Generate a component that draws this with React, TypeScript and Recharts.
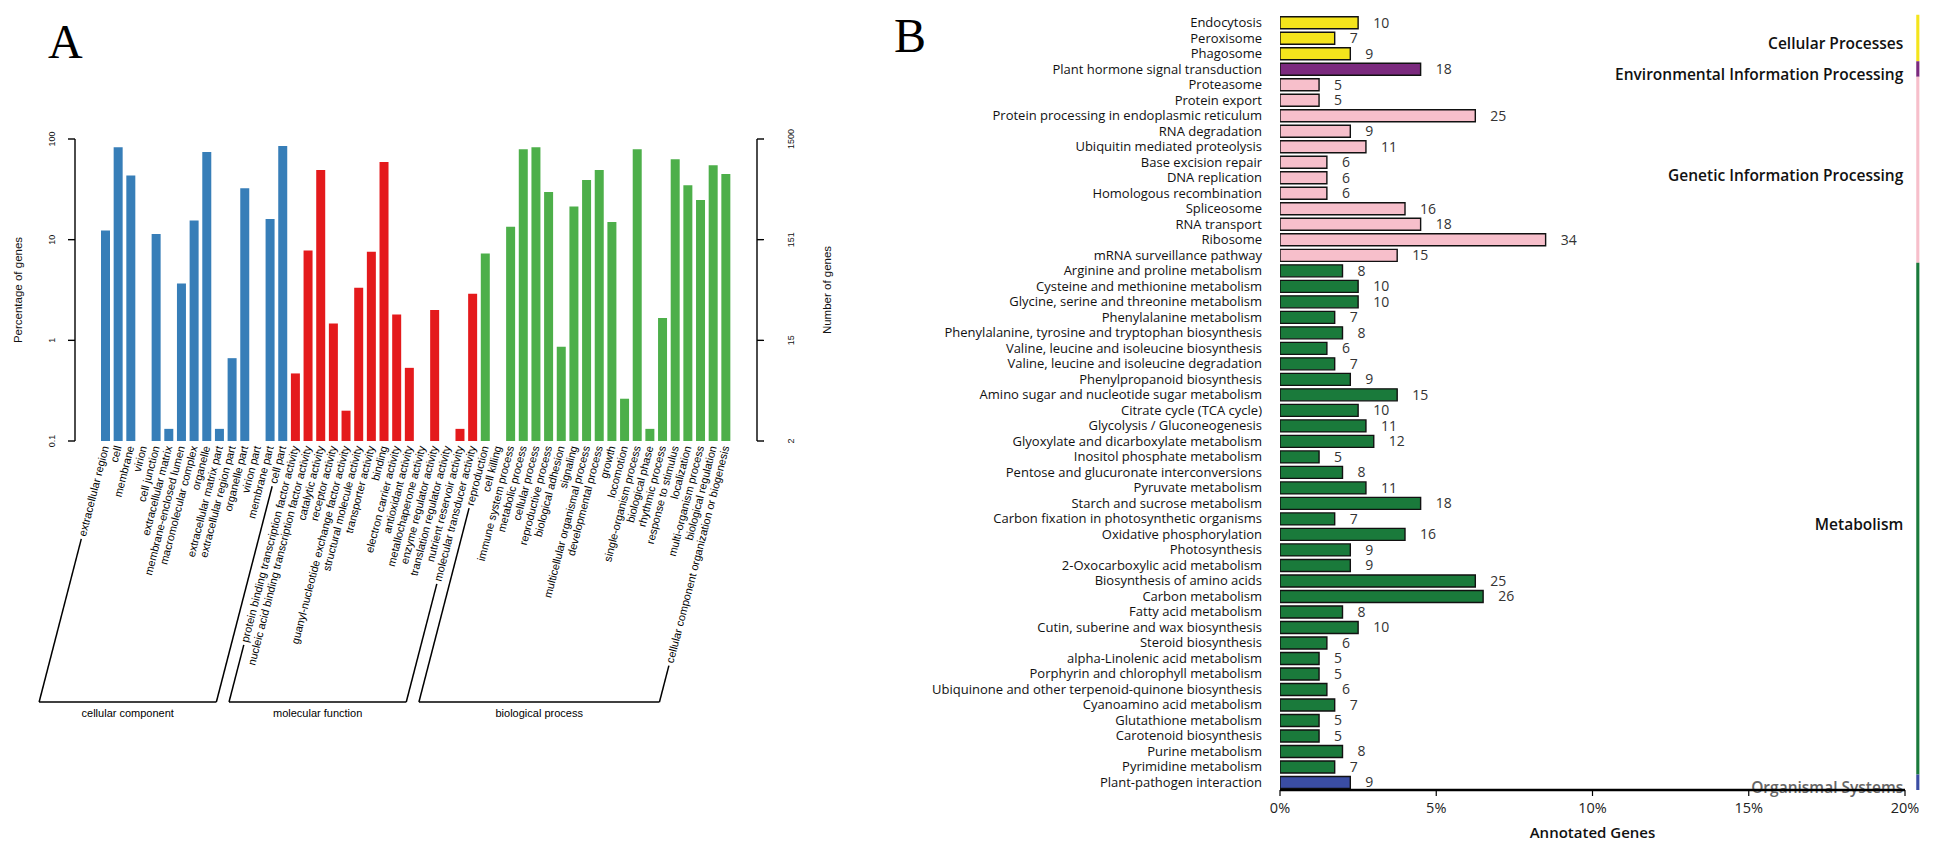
import { BarChart, Bar, XAxis, YAxis, Cell, LabelList, ReferenceArea } from 'recharts';

// ---------- Panel A: GO classification ----------
const ccTerms = [
  'extracellular region', 'cell', 'membrane', 'virion', 'cell junction', 'extracellular matrix',
  'membrane-enclosed lumen', 'macromolecular complex', 'organelle', 'extracellular matrix part',
  'extracellular region part', 'organelle part', 'virion part', 'membrane part', 'cell part',
];
const ccPct = [12.3, 82.7, 43.3, null, 11.4, 0.132, 3.66, 15.5, 74.3, 0.132, 0.665, 32.4, null, 16.0, 85.2];

const mfTerms = [
  'protein binding transcription factor activity', 'nucleic acid binding transcription factor activity',
  'catalytic activity', 'receptor activity', 'guanyl-nucleotide exchange factor activity',
  'structural molecule activity', 'transporter activity', 'binding', 'electron carrier activity',
  'antioxidant activity', 'metallochaperone activity', 'enzyme regulator activity',
  'translation regulator activity', 'nutrient reservoir activity', 'molecular transducer activity',
];
const mfPct = [0.469, 7.8, 49.3, 1.47, 0.2, 3.32, 7.57, 59.1, 1.81, 0.533, null, 2.0, null, 0.132, 2.9];

const bpTerms = [
  'reproduction', 'cell killing', 'immune system process', 'metabolic process', 'cellular process',
  'reproductive process', 'biological adhesion', 'signaling', 'multicellular organismal process',
  'developmental process', 'growth', 'locomotion', 'single-organism process', 'biological phase',
  'rhythmic process', 'response to stimulus', 'localization', 'multi-organism process',
  'biological regulation', 'cellular component organization or biogenesis',
];
const bpPct = [7.28, null, 13.4, 79, 82.7, 29.8, 0.863, 21.3, 39.2, 49.3, 15.0, 0.263, 79, 0.132, 1.67, 62.8, 34.7, 24.8, 54.8, 45];

const goGroupNames = ['cellular component', 'molecular function', 'biological process'];
const goColors = ['#377EB8', '#E41A1C', '#4DAF4A'];
const pctTicks = [0.1, 1, 10, 100];
const pctTickLabels = ['0.1', '1', '10', '100'];
const geneTickLabels = ['2', '15', '151', '1500'];

// ---------- Panel B: KEGG classification ----------
const keggTerms = [
  'Endocytosis', 'Peroxisome', 'Phagosome', 'Plant hormone signal transduction', 'Proteasome',
  'Protein export', 'Protein processing in endoplasmic reticulum', 'RNA degradation',
  'Ubiquitin mediated proteolysis', 'Base excision repair', 'DNA replication', 'Homologous recombination',
  'Spliceosome', 'RNA transport', 'Ribosome', 'mRNA surveillance pathway',
  'Arginine and proline metabolism', 'Cysteine and methionine metabolism',
  'Glycine, serine and threonine metabolism', 'Phenylalanine metabolism',
  'Phenylalanine, tyrosine and tryptophan biosynthesis', 'Valine, leucine and isoleucine biosynthesis',
  'Valine, leucine and isoleucine degradation', 'Phenylpropanoid biosynthesis',
  'Amino sugar and nucleotide sugar metabolism', 'Citrate cycle (TCA cycle)', 'Glycolysis / Gluconeogenesis',
  'Glyoxylate and dicarboxylate metabolism', 'Inositol phosphate metabolism',
  'Pentose and glucuronate interconversions', 'Pyruvate metabolism', 'Starch and sucrose metabolism',
  'Carbon fixation in photosynthetic organisms', 'Oxidative phosphorylation', 'Photosynthesis',
  '2-Oxocarboxylic acid metabolism', 'Biosynthesis of amino acids', 'Carbon metabolism',
  'Fatty acid metabolism', 'Cutin, suberine and wax biosynthesis', 'Steroid biosynthesis',
  'alpha-Linolenic acid metabolism', 'Porphyrin and chlorophyll metabolism',
  'Ubiquinone and other terpenoid-quinone biosynthesis', 'Cyanoamino acid metabolism',
  'Glutathione metabolism', 'Carotenoid biosynthesis', 'Purine metabolism', 'Pyrimidine metabolism',
  'Plant-pathogen interaction',
];
const keggGenes = [
  10, 7, 9, 18, 5, 5, 25, 9, 11, 6, 6, 6, 16, 18, 34, 15,
  8, 10, 10, 7, 8, 6, 7, 9, 15, 10, 11, 12, 5, 8, 11, 18, 7, 16, 9, 9, 25, 26, 8, 10, 6, 5, 5, 6, 7, 5, 5, 8, 7,
  9,
];
const KEGG_TOTAL = 400;
const keggClassNames = ['Cellular Processes', 'Environmental Information Processing', 'Genetic Information Processing', 'Metabolism', 'Organismal Systems'];
const keggClassSizes = [3, 1, 12, 33, 1];
const keggClassColors = ['#F4E41C', '#7B2A7E', '#F7BFCB', '#1A7A3B', '#3A4DA3'];
const keggTicks = [0, 5, 10, 15, 20];

// ---------- derived tables ----------
const goLists = [
  { terms: ccTerms, pct: ccPct },
  { terms: mfTerms, pct: mfPct },
  { terms: bpTerms, pct: bpPct },
];
const goData: { term: string; pct: number | null; group: number }[] = [];
const goGroups: { name: string; start: number; end: number }[] = [];
goLists.forEach((l, g) => {
  const start = goData.length;
  l.terms.forEach((t, i) => goData.push({ term: t, pct: l.pct[i], group: g }));
  goGroups.push({ name: goGroupNames[g], start, end: goData.length - 1 });
});

const keggClass: number[] = [];
const keggClassRanges: { start: number; end: number }[] = [];
keggClassSizes.forEach((n, c) => {
  const start = keggClass.length;
  for (let i = 0; i < n; i++) keggClass.push(c);
  keggClassRanges.push({ start, end: keggClass.length - 1 });
});
const keggData = keggTerms.map((t, i) => ({
  term: t,
  genes: keggGenes[i],
  pct: (keggGenes[i] / KEGG_TOTAL) * 100,
  cls: keggClass[i],
}));

const FONT_A = '"Liberation Sans", Arial, sans-serif';
const FONT_B = '"Open Sans", Lato, sans-serif';
const LABEL_SIZE = 11;
const ANGLE = 75.5;
const BRACKET_Y = 702;

let measureCtx: CanvasRenderingContext2D | null = null;
function textWidth(s: string) {
  if (!measureCtx) measureCtx = document.createElement('canvas').getContext('2d');
  if (!measureCtx) return s.length * 5.5;
  measureCtx.font = `${LABEL_SIZE}px "Liberation Sans"`;
  return measureCtx.measureText(s).width;
}

const tickXs: number[] = [];

function GoTick(props: any) {
  const { x, y, index } = props;
  const row = goData[index];
  if (!row) return null;
  tickXs[index] = x;
  const grp = goGroups[row.group];
  const isFirst = index === grp.start;
  const isLast = index === grp.end;
  const rad = (ANGLE * Math.PI) / 180;
  const drop = BRACKET_Y - y;
  const len = drop / Math.sin(rad);
  const shift = drop / Math.tan(rad);
  const w = textWidth(row.term);
  let bracket = null;
  if (isLast && tickXs[grp.start] != null) {
    const x0 = tickXs[grp.start] - shift;
    const x1 = x - shift;
    bracket = (
      <g>
        <line x1={x0} x2={x1} y1={BRACKET_Y} y2={BRACKET_Y} stroke="#000" strokeWidth={1.5} />
        <text x={(x0 + x1) / 2} y={BRACKET_Y + 11} textAnchor="middle" dominantBaseline="central"
          fontSize={11} fontFamily={FONT_A} fill="#000">{grp.name}</text>
      </g>
    );
  }
  return (
    <g>
      <g transform={`translate(${x},${y}) rotate(${-ANGLE})`}>
        <text x={0} y={0} dy="0.35em" textAnchor="end" fontSize={LABEL_SIZE} fontFamily={FONT_A} fill="#000">
          {row.term}
        </text>
        {(isFirst || isLast) && (
          <line x1={-(w + 3)} x2={-len} y1={0} y2={0} stroke="#000" strokeWidth={1.5} />
        )}
      </g>
      {bracket}
    </g>
  );
}

function RotTick(props: any) {
  const { x, y, payload, labels } = props;
  const i = pctTicks.indexOf(payload.value);
  return (
    <text x={x} y={y} transform={`rotate(-90 ${x} ${y})`} textAnchor="middle" dominantBaseline="central"
      fontSize={9} fontFamily={FONT_A} fill="#111">
      {labels[i]}
    </text>
  );
}

function axisTitle(text: string, dx: number) {
  return (p: any) => {
    const vb = p.viewBox;
    if (!vb) return null;
    const cx = vb.x + dx;
    const cy = vb.y + vb.height / 2;
    return (
      <text x={cx} y={cy} transform={`rotate(-90 ${cx} ${cy})`} textAnchor="middle" dominantBaseline="central"
        fontSize={11.5} fontFamily={FONT_A} fill="#111">
        {text}
      </text>
    );
  };
}

function GoChart() {
  return (
    <BarChart width={860} height={760} data={goData} margin={{ top: 139, right: 0, bottom: 19, left: 0 }}>
      <XAxis dataKey="term" type="category" interval={0} height={300} axisLine={false} tickLine={false}
        tickSize={0} tickMargin={5} padding={{ left: 24, right: 25 }} tick={(p: any) => <GoTick {...p} />} />
      <YAxis yAxisId="pct" type="number" scale="log" domain={[0.1, 100]} allowDataOverflow ticks={pctTicks}
        width={75} tickSize={7} tickMargin={16}
        axisLine={{ stroke: '#000', strokeWidth: 1.4 }} tickLine={{ stroke: '#000', strokeWidth: 1.4 }}
        tick={(p: any) => <RotTick {...p} labels={pctTickLabels} />}
        label={axisTitle('Percentage of genes', 18)} />
      <YAxis yAxisId="genes" orientation="right" type="number" scale="log" domain={[0.1, 100]} allowDataOverflow
        ticks={pctTicks} width={103} tickSize={7} tickMargin={27}
        axisLine={{ stroke: '#000', strokeWidth: 1.4 }} tickLine={{ stroke: '#000', strokeWidth: 1.4 }}
        tick={(p: any) => <RotTick {...p} labels={geneTickLabels} />}
        label={axisTitle('Number of genes', 70)} />
      <Bar yAxisId="pct" dataKey="pct" barSize={9} isAnimationActive={false}>
        {goData.map((d, i) => (
          <Cell key={i} fill={goColors[d.group]} />
        ))}
      </Bar>
    </BarChart>
  );
}

function KeggChart() {
  return (
    <BarChart layout="vertical" width={1043} height={843} data={keggData}
      margin={{ top: 14.75, right: 38, bottom: 0, left: 0 }}>
      <XAxis type="number" domain={[0, 20]} allowDataOverflow ticks={keggTicks}
        tickFormatter={(v: number) => `${v}%`} height={53}
        axisLine={{ stroke: '#000', strokeWidth: 2.5 }} tickLine={{ stroke: '#000', strokeWidth: 1.2 }}
        tickSize={6} tickMargin={7} tick={{ fill: '#222', fontSize: 14.5, fontFamily: FONT_B }}
        label={{ value: 'Annotated Genes', position: 'insideBottom', offset: 5, fill: '#111', fontSize: 15, fontWeight: 600, fontFamily: FONT_B }} />
      <YAxis type="category" dataKey="term" width={380} interval={0} axisLine={false} tickLine={false}
        tickSize={0} tickMargin={18} tick={{ fill: '#111', fontSize: 13, fontFamily: FONT_B }} />
      {keggClassRanges.map((r, c) => (
        <ReferenceArea key={c} x1={20.36} x2={20.46} y1={keggTerms[r.start]} y2={keggTerms[r.end]}
          ifOverflow="visible" fill={keggClassColors[c]} fillOpacity={1} stroke="none"
          label={(p: any) => {
            const vb = p.viewBox;
            if (!vb) return null;
            return (
              <text x={vb.x - 13} y={vb.y + vb.height / 2 + 5} textAnchor="end" dominantBaseline="central"
                fontSize={15.5} fontWeight={600} fontFamily={FONT_B}
                fill={c === keggClassNames.length - 1 ? '#666' : '#111'}>
                {keggClassNames[c]}
              </text>
            );
          }} />
      ))}
      <Bar dataKey="pct" barSize={12} stroke="#111" strokeWidth={1.4} isAnimationActive={false}>
        {keggData.map((d, i) => (
          <Cell key={i} fill={keggClassColors[d.cls]} />
        ))}
        <LabelList dataKey="genes" position="right" offset={15} fill="#333" fontSize={14} fontFamily={FONT_B} />
      </Bar>
    </BarChart>
  );
}

export default function App() {
  return (
    <div style={{ position: 'absolute', left: 0, top: 0, width: 1943, height: 843, background: '#fff' }}>
      <div style={{ position: 'absolute', left: 0, top: 0 }}>
        <GoChart />
      </div>
      <div style={{ position: 'absolute', left: 900, top: 0 }}>
        <KeggChart />
      </div>
      <svg style={{ position: 'absolute', left: 0, top: 0 }} width={1943} height={80}>
        <text x={48} y={58} fontSize={48} fontFamily='"Liberation Serif", serif' fill="#000">A</text>
        <text x={894} y={52} fontSize={48} fontFamily='"Liberation Serif", serif' fill="#000">B</text>
      </svg>
    </div>
  );
}
